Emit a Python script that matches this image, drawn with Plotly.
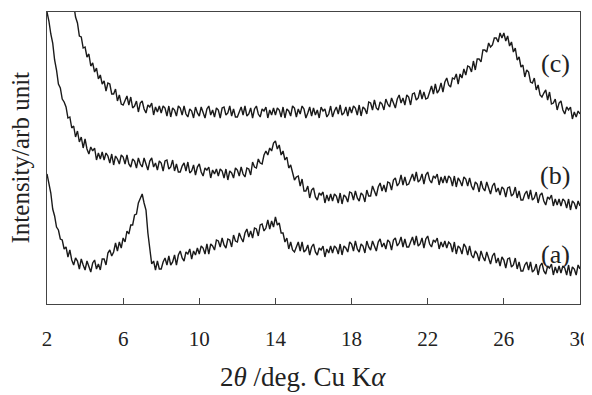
import numpy as np
import plotly.graph_objects as go

# 2-theta sampling grid (deg), 0.1 deg steps from 2 to 30
theta = np.round(np.arange(0, 281) * 0.1 + 2.0, 1)

# Intensity (arb. units), curve (a)
int_a = [
    130, 119, 111, 95, 88, 77, 74, 65, 64, 55,
    57, 47, 54, 44, 39, 46, 43, 35, 45, 39,
    34, 43, 37, 32, 41, 44, 35, 40, 34, 45,
    45, 39, 51, 54, 48, 52, 61, 53, 62, 56,
    66, 62, 73, 70, 79, 79, 89, 90, 101, 106,
    110, 101, 94, 71, 56, 40, 43, 34, 43, 35,
    35, 42, 46, 39, 48, 39, 42, 49, 39, 49,
    53, 46, 43, 52, 50, 55, 45, 53, 49, 56,
    50, 58, 56, 50, 60, 50, 60, 58, 54, 64,
    63, 57, 66, 59, 56, 65, 64, 57, 69, 63,
    62, 71, 66, 62, 71, 75, 67, 73, 66, 76,
    75, 68, 79, 80, 73, 76, 84, 75, 83, 77,
    87, 79, 81, 71, 71, 62, 66, 55, 62, 54,
    52, 58, 62, 53, 62, 52, 54, 59, 49, 57,
    60, 52, 49, 56, 54, 58, 47, 55, 51, 58,
    51, 58, 56, 50, 60, 49, 58, 56, 52, 62,
    60, 53, 63, 55, 52, 60, 58, 51, 63, 57,
    54, 63, 57, 53, 62, 65, 57, 61, 55, 64,
    62, 54, 64, 66, 58, 61, 67, 57, 65, 57,
    57, 63, 67, 59, 68, 58, 60, 66, 56, 65,
    68, 60, 57, 64, 62, 66, 55, 62, 57, 63,
    56, 62, 60, 52, 62, 50, 58, 56, 50, 60,
    57, 49, 58, 49, 46, 53, 50, 43, 53, 47,
    43, 52, 45, 40, 48, 51, 41, 46, 38, 47,
    44, 36, 45, 46, 37, 39, 46, 35, 42, 33,
    33, 39, 42, 34, 42, 32, 34, 40, 29, 38,
    41, 33, 30, 38, 36, 40, 29, 37, 31, 38,
    31, 38, 36, 29, 39, 28, 37, 35, 29, 39,
    35,
]

# curve (b)
int_b = [
    292, 283, 270, 261, 244, 234, 220, 216, 205, 202,
    197, 186, 187, 176, 178, 167, 173, 162, 167, 156,
    165, 155, 150, 157, 153, 156, 144, 151, 145, 152,
    144, 151, 148, 141, 150, 139, 148, 145, 140, 149,
    147, 140, 149, 140, 137, 145, 143, 136, 146, 140,
    137, 146, 140, 134, 143, 146, 137, 141, 134, 143,
    141, 133, 143, 144, 135, 137, 144, 133, 140, 132,
    132, 138, 141, 133, 142, 131, 133, 139, 129, 137,
    140, 132, 128, 136, 134, 137, 126, 134, 130, 135,
    128, 135, 133, 126, 135, 124, 133, 131, 126, 136,
    134, 128, 137, 130, 127, 136, 135, 129, 142, 137,
    136, 145, 141, 140, 149, 153, 149, 156, 153, 161,
    163, 155, 159, 149, 153, 144, 147, 136, 139, 130,
    124, 127, 128, 118, 125, 113, 113, 118, 106, 114,
    116, 107, 104, 111, 109, 112, 101, 109, 103, 110,
    103, 110, 108, 101, 111, 100, 109, 107, 102, 112,
    111, 104, 113, 106, 103, 111, 109, 102, 114, 108,
    108, 118, 112, 108, 117, 121, 113, 119, 112, 122,
    121, 114, 124, 126, 118, 121, 129, 119, 127, 119,
    120, 126, 130, 123, 132, 122, 124, 130, 120, 129,
    132, 124, 121, 128, 126, 130, 119, 127, 121, 128,
    121, 128, 126, 118, 128, 117, 126, 123, 118, 127,
    125, 118, 126, 118, 114, 122, 120, 112, 123, 116,
    113, 122, 115, 110, 118, 121, 112, 116, 109, 117,
    115, 107, 116, 117, 108, 110, 117, 106, 113, 104,
    104, 110, 113, 105, 114, 104, 106, 112, 101, 109,
    111, 103, 99, 107, 105, 109, 98, 105, 99, 105,
    98, 105, 103, 96, 105, 94, 103, 101, 95, 103,
    98,
]

# curve (c), visible from 3.4 deg
theta_c_start = 3.4
int_c = [
    300, 287, 281, 268, 267, 256,
    257, 247, 250, 238, 241, 232, 236, 225, 229, 220,
    223, 213, 221, 220, 210, 210, 215, 203, 209, 200,
    199, 204, 208, 199, 207, 196, 198, 203, 192, 201,
    203, 195, 191, 199, 197, 201, 189, 197, 192, 198,
    191, 198, 196, 188, 198, 187, 196, 194, 188, 198,
    196, 189, 198, 190, 187, 195, 193, 186, 197, 191,
    188, 197, 191, 186, 195, 198, 189, 194, 187, 196,
    194, 186, 196, 197, 189, 191, 198, 188, 195, 187,
    187, 193, 197, 189, 198, 188, 190, 196, 186, 195,
    198, 190, 187, 195, 193, 197, 186, 194, 189, 196,
    189, 196, 194, 187, 197, 186, 195, 193, 188, 198,
    196, 187, 195, 190, 198, 195, 186, 191, 197, 188,
    196, 189, 194, 186, 197, 193, 195, 187, 190, 198,
    187, 193, 197, 190, 199, 189, 191, 197, 188, 197,
    191, 198, 196, 189, 199, 188, 197, 195, 190, 202,
    201, 194, 204, 196, 194, 202, 200, 194, 205, 200,
    197, 206, 201, 196, 205, 209, 201, 206, 199, 209,
    207, 199, 210, 211, 204, 206, 214, 205, 212, 205,
    206, 213, 218, 210, 220, 211, 214, 221, 212, 222,
    226, 219, 217, 226, 225, 230, 220, 230, 226, 235,
    229, 238, 237, 232, 243, 234, 245, 245, 242, 254,
    254, 252, 261, 257, 259, 266, 266, 262, 271, 266,
    271, 263, 268, 258, 262, 252, 256, 244, 247, 237,
    239, 227, 234, 232, 222, 221, 226, 214, 219, 209,
    207, 211, 214, 204, 212, 200, 201, 205, 194, 201,
    203, 194, 190, 197, 194, 197, 185, 192, 187, 193,
    190,
]

labels = ["(a)", "(b)", "(c)"]
label_theta = [28.7, 28.7, 28.7]
label_int = [50, 129, 241]

x_ticks = [2, 6, 10, 14, 18, 22, 26, 30]

theta_c = theta[theta >= theta_c_start - 1e-9]

SERIF = "Liberation Serif, Times New Roman, serif"
line_style = dict(color="#1a1a1a", width=1.4)
fig = go.Figure()
fig.add_trace(go.Scatter(x=theta, y=int_a, mode="lines", line=line_style, showlegend=False))
fig.add_trace(go.Scatter(x=theta, y=int_b, mode="lines", line=line_style, showlegend=False))
fig.add_trace(go.Scatter(x=theta_c, y=int_c, mode="lines", line=line_style, showlegend=False))

for t, xv, yv in zip(labels, label_theta, label_int):
    fig.add_annotation(x=xv, y=yv, xref="x", yref="y", text=t, showarrow=False,
                       font=dict(family=SERIF, size=26, color="#222"),
                       xanchor="center", yanchor="middle")

# axis titles
fig.add_annotation(x=0.48, y=-0.25, xref="paper", yref="paper",
                   text="2<i>θ</i> /deg. Cu K<i>α</i>", showarrow=False,
                   font=dict(family=SERIF, size=27, color="#222"),
                   xanchor="center", yanchor="middle")
fig.add_annotation(x=-0.05, y=0.503, xref="paper", yref="paper",
                   text="Intensity/arb unit", showarrow=False, textangle=-90,
                   font=dict(family=SERIF, size=25, color="#222"),
                   xanchor="center", yanchor="middle", borderpad=0)

# the page body adds an 8 px offset, so the figure is sized to fit the window
fig.update_layout(
    template="none",
    width=584, height=387,
    margin=dict(l=39, r=12, t=4, b=91),
    paper_bgcolor="white", plot_bgcolor="white",
    font=dict(family=SERIF, color="#222"),
    xaxis=dict(range=[2, 30], tickvals=x_ticks, ticktext=[str(v) for v in x_ticks],
               ticks="inside", ticklen=6, tickcolor="#444", tickwidth=1,
               showline=True, linecolor="#444", linewidth=1, mirror=True,
               showgrid=False, zeroline=False, automargin=False,
               ticklabelstandoff=16,
               tickfont=dict(family=SERIF, size=21, color="#222")),
    yaxis=dict(range=[0, 292], showticklabels=False, ticks="",
               showline=True, linecolor="#444", linewidth=1, mirror=True,
               showgrid=False, zeroline=False, automargin=False),
)

fig.write_html("out.html")
